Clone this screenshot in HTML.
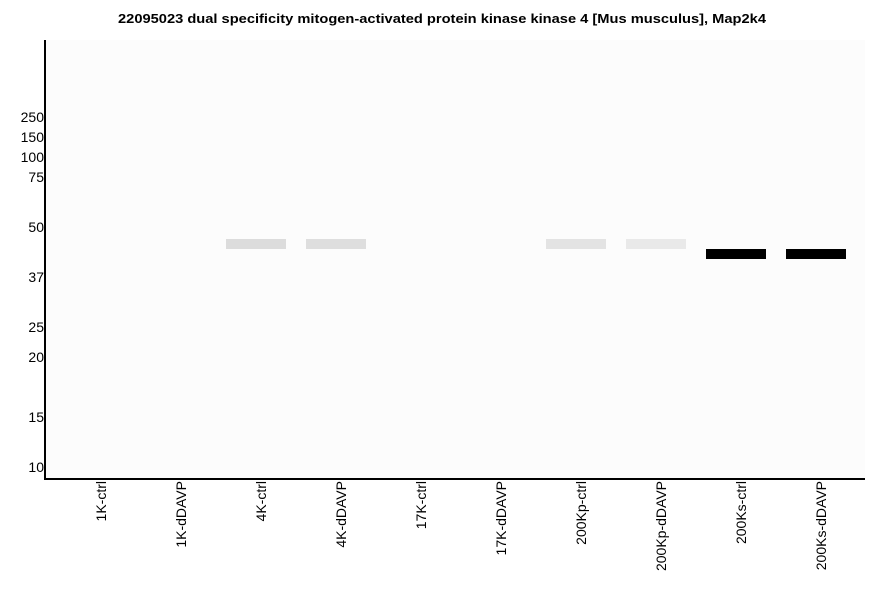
<!DOCTYPE html>
<html><head><meta charset="utf-8"><style>
html,body{margin:0;padding:0;background:#fff;}
svg{display:block;font-family:"Liberation Sans",Arial,sans-serif;}
</style></head><body>
<svg width="886" height="595" viewBox="0 0 886 595" xmlns="http://www.w3.org/2000/svg">
<rect width="886" height="595" fill="#fff"/>
<rect x="46" y="40" width="819" height="438" fill="#fcfcfc"/>
<text x="118" y="23" font-size="13" font-weight="bold" textLength="648" lengthAdjust="spacingAndGlyphs">22095023 dual specificity mitogen-activated protein kinase kinase 4 [Mus musculus], Map2k4</text>
<g font-size="14" text-anchor="end" fill="#000">
<text x="44" y="122">250</text>
<text x="44" y="142">150</text>
<text x="44" y="162">100</text>
<text x="44" y="182">75</text>
<text x="44" y="232">50</text>
<text x="44" y="282">37</text>
<text x="44" y="332">25</text>
<text x="44" y="362">20</text>
<text x="44" y="422">15</text>
<text x="44" y="472">10</text>
</g>
<rect x="226" y="239" width="60" height="10" fill="#dcdcdc"/>
<rect x="306" y="239" width="60" height="10" fill="#dedede"/>
<rect x="546" y="239" width="60" height="10" fill="#e3e3e3"/>
<rect x="626" y="239" width="60" height="10" fill="#e9e9e9"/>
<rect x="706" y="249" width="60" height="10" fill="#000"/>
<rect x="786" y="249" width="60" height="10" fill="#000"/>
<rect x="44" y="40" width="2" height="440" fill="#000"/>
<rect x="44" y="478" width="821" height="2" fill="#000"/>
<g font-size="14" text-anchor="end" fill="#000">
<text transform="translate(106,481) rotate(-90)">1K-ctrl</text>
<text transform="translate(186,481) rotate(-90)">1K-dDAVP</text>
<text transform="translate(266,481) rotate(-90)">4K-ctrl</text>
<text transform="translate(346,481) rotate(-90)">4K-dDAVP</text>
<text transform="translate(426,481) rotate(-90)">17K-ctrl</text>
<text transform="translate(506,481) rotate(-90)">17K-dDAVP</text>
<text transform="translate(586,481) rotate(-90)">200Kp-ctrl</text>
<text transform="translate(666,481) rotate(-90)">200Kp-dDAVP</text>
<text transform="translate(746,481) rotate(-90)">200Ks-ctrl</text>
<text transform="translate(826,481) rotate(-90)">200Ks-dDAVP</text>
</g>
</svg>
</body></html>
